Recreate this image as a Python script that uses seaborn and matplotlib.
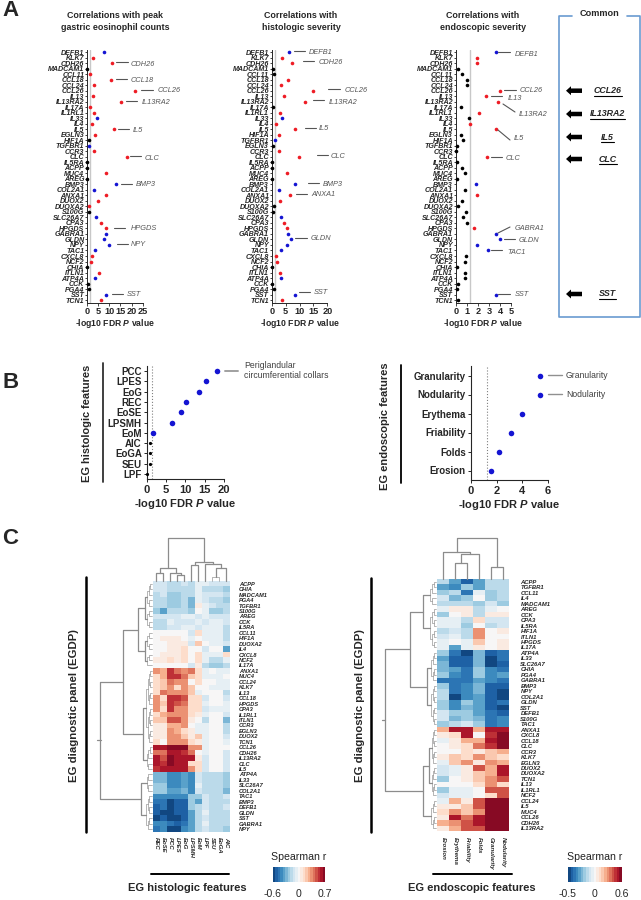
import numpy as np
import pandas as pd
import seaborn as sns
import matplotlib.pyplot as plt
from matplotlib.colors import TwoSlopeNorm

W, H = 641, 900

genes_eos = ['DEFB1','KLK7','CDH26','MADCAM1','CCL11','CCL18','CCL24','CCL26','IL13','IL13RA2','IL17A','IL1RL1','IL33','IL4','IL5','EGLN3','HIF1A','TGFBR1','CCR3','CLC','IL5RA','ACPP','MUC4','AREG','BMP3','COL2A1','ANXA1','DUOX2','DUOXA2','S100G','SLC26A7','CPA3','HPGDS','GABRA1','GLDN','NPY','TAC1','CXCL8','NCF2','CHIA','ITLN1','ATP4A','CCK','PGA4','SST','TCN1']
vals_eos = [7.5,2.7,11.3,0.2,1.2,10.7,3.0,21.7,2.7,15.2,1.3,3.3,4.4,2.1,12.2,3.6,0.9,1.1,3.3,17.9,0.1,0.1,8.6,0.1,12.8,3.2,8.4,5.1,1.0,0.8,4.1,6.3,8.7,8.4,7.5,9.9,3.6,2.3,1.7,0.1,5.3,3.6,0.6,0.9,8.7,6.3]
dirs_eos = ['b','r','r','k','r','r','r','r','r','r','r','r','b','r','r','r','k','b','r','r','k','k','r','k','b','b','r','r','r','k','b','r','r','b','b','b','b','r','r','k','r','b','k','k','b','r']

genes_his = ['DEFB1','KLK7','CDH26','MADCAM1','CCL11','CCL18','CCL24','CCL26','IL13','IL13RA2','IL17A','IL1RL1','IL33','IL4','IL5','HIF1A','TGFBR1','EGLN3','CCR3','CLC','IL5RA','ACPP','MUC4','AREG','BMP3','COL2A1','ANXA1','DUOX2','DUOXA2','S100G','SLC26A7','CPA3','HPGDS','GABRA1','GLDN','NPY','TAC1','CXCL8','NCF2','CHIA','ITLN1','ATP4A','CCK','PGA4','SST','TCN1']
vals_his = [6.2,3.6,7.4,0.4,1.0,5.7,3.2,14.9,4.4,12.1,0.4,3.0,3.7,1.7,8.3,2.6,1.3,0.4,2.5,9.8,0.2,0.1,5.5,0.1,8.4,2.8,6.7,3.0,1.0,0.3,3.2,4.4,5.6,5.7,6.8,5.6,3.2,1.6,1.9,0.1,3.0,3.2,0.1,0.7,8.5,3.6]
dirs_his = ['b','r','r','k','k','r','r','r','r','r','k','r','b','r','r','r','b','k','r','r','k','k','r','k','b','b','r','r','k','k','b','r','r','b','b','b','b','r','r','k','r','b','k','k','b','r']

genes_end = genes_eos
vals_end = [3.6,1.9,1.9,0.2,0.6,1.0,1.0,4.0,2.7,3.8,0.45,2.1,1.2,1.25,3.6,0.5,0.65,0.15,0.05,2.8,0.15,0.6,0.8,0.15,1.8,0.8,1.9,0.6,0.2,0.9,0.65,1.0,1.65,3.6,4.0,1.9,2.9,0.9,0.8,0.15,0.8,0.8,0.2,0.15,3.6,0.2]
dirs_end = ['b','r','r','k','k','k','k','r','r','r','k','r','k','r','r','k','k','k','k','r','k','k','k','k','b','k','r','k','k','k','k','k','r','b','b','b','b','k','k','k','k','k','k','k','b','k']

# callouts, picture pixels: x0, y0, x1, y1, text x, text y, label
notes_a = [
    (116,62,128,62,131,64,'CDH26'),(116,79,127,79,131,80,'CCL18'),(141,90,153,90,158,91,'CCL26'),
    (126,101,137,101,142,103,'IL13RA2'),(118,129,129,129,133,130,'IL5'),(130,156,141,156,145,158,'CLC'),
    (121,184,132,184,136,185,'BMP3'),(114,228,125,228,131,229,'HPGDS'),(117,244,128,244,131,245,'NPY'),
    (112,294,123,294,127,295,'SST'),
    (294,51,305,51,309,52,'DEFB1'),(303,61,314,61,319,62,'CDH26'),(328,89,340,89,345,90,'CCL26'),
    (313,100,324,100,329,102,'IL13RA2'),(305,128,316,128,319,129,'IL5'),(317,155,328,155,331,157,'CLC'),
    (308,183,319,183,323,184,'BMP3'),(296,194,307,194,311,195,'ANXA1'),(295,238,307,238,311,239,'GLDN'),
    (299,292,310,292,314,293,'SST'),
    (498,52,510,52,515,54,'DEFB1'),(504,90,516,90,520,91,'CCL26'),(491,96,502,96,508,98,'IL13'),
    (503,104,515,112,519,114,'IL13RA2'),(498,130,510,140,514,139,'IL5'),(491,157,502,157,506,158,'CLC'),
    (498,233,510,227,515,229,'GABRA1'),(504,239,515,239,519,240,'GLDN'),(491,250,502,250,507,252,'TAC1'),
    (498,294,510,294,515,295,'SST')]
common_genes = ['CCL26','IL13RA2','IL5','CLC','SST']
common_y = [90.7,114,137,159,294]

hist_feats = ['PCC','LPES','EoG','REC','EoSE','LPSMH','EoM','AIC','EoGA','SEU','LPF']
hist_vals = [18.2,15.3,13.6,10.2,9.0,6.6,1.6,0.9,0.8,0.8,0.1]
hist_sig = [1,1,1,1,1,1,1,0,0,0,0]
endo_feats = ['Granularity','Nodularity','Erythema','Friability','Folds','Erosion']
endo_vals = [5.4,5.4,4.0,3.15,2.2,1.55]

heat_l_rows = ['ACPP','CHIA','MADCAM1','PGA4','TGFBR1','S100G','AREG','CCK','IL5RA','CCL11','HIF1A','DUOXA2','IL4','CXCL8','NCF2','IL17A','ANXA1','MUC4','CCL24','KLK7','IL13','CCL18','HPGDS','CPA3','IL1RL1','ITLN1','CCR3','EGLN3','DUOX2','TCN1','CCL26','CDH26','IL13RA2','CLC','IL5','ATP4A','IL33','SLC26A7','COL2A1','TAC1','BMP3','DEFB1','GLDN','SST','GABRA1','NPY']
heat_l_cols = ['REC','EoSE','PCC','LPES','EoG','LPSMH','EoM','LPF','SEU','EoGA','AIC']
heat_l = [
    [-.12,-.12,-.17,-.17,-.12,-.17,-.03,-.07,-.10,-.10,-.12],
    [-.12,-.12,-.20,-.20,-.15,-.20,-.04,-.20,-.20,-.20,-.22],
    [-.20,-.12,-.22,-.22,-.17,-.20,-.05,-.12,-.12,-.12,-.15],
    [-.20,-.15,-.25,-.25,-.15,-.30,-.05,-.12,-.15,-.15,-.25],
    [-.20,-.15,-.25,-.25,-.20,-.30,.05,-.03,-.12,-.18,-.20],
    [-.25,-.32,-.20,-.20,-.18,-.22,-.02,-.05,-.22,-.22,-.18],
    [-.12,-.12,-.12,-.12,-.08,-.03,-.12,-.07,-.10,-.10,-.10],
    [-.15,-.15,-.08,-.10,-.10,-.12,-.05,-.12,-.03,-.03,-.12],
    [-.15,-.15,-.10,-.10,-.08,-.05,-.12,-.05,-.07,-.07,-.15],
    [.03,.03,.03,.02,.01,-.10,.12,-.08,-.07,-.07,-.20],
    [.03,.05,.05,.05,.02,-.07,.03,-.05,-.07,-.07,-.20],
    [.02,.01,.04,.06,.05,-.10,.20,-.02,-.03,-.03,-.10],
    [.03,.02,.08,.08,.10,.01,.02,-.10,-.02,-.02,-.35],
    [.02,.07,.06,.05,.10,0,.10,-.05,-.03,-.03,.12],
    [.08,.07,.10,.07,.13,0,.15,-.07,-.17,-.17,-.05],
    [.03,.03,.02,.02,.02,-.12,.05,-.20,-.22,-.22,-.18],
    [.30,.25,.50,.42,.35,.42,.10,-.03,-.02,-.03,-.05],
    [.15,.25,.52,.52,.42,.20,.10,-.03,-.05,-.05,.02],
    [.12,.20,.40,.35,.30,.03,.12,-.02,-.02,-.03,-.05],
    [.12,.20,.32,.12,.30,.20,.02,-.02,-.07,-.05,-.05],
    [.15,.42,.30,.30,.30,.20,-.05,.03,-.02,-.02,-.20],
    [.35,.15,.52,.52,.45,.15,.12,-.10,-.02,-.02,-.10],
    [.35,.20,.52,.45,.42,.10,.12,-.03,-.02,-.02,-.08],
    [.30,.12,.50,.35,.35,.10,.10,-.10,-.08,-.08,-.08],
    [.15,.27,.35,.35,.30,.10,.05,-.03,-.02,-.02,-.12],
    [.22,.22,.45,.45,.35,.05,.03,-.20,-.02,-.02,-.30],
    [.05,.05,.25,.25,.30,.02,-.03,-.07,-.02,-.02,-.15],
    [.05,.05,.30,.25,.15,.05,-.03,-.03,-.02,-.02,-.15],
    [.05,.05,.30,.30,.22,.05,.18,-.05,-.02,-.02,-.12],
    [.12,.03,.30,.35,.30,.12,.05,-.03,-.02,-.02,-.07],
    [.62,.62,.70,.65,.65,.35,.32,-.05,.02,.02,-.02],
    [.40,.40,.62,.62,.50,.40,.03,-.08,-.02,-.02,-.12],
    [.60,.45,.65,.62,.58,.58,.05,-.10,-.02,-.02,-.12],
    [.60,.50,.65,.60,.60,.10,.15,-.10,-.02,-.02,-.12],
    [.50,.58,.62,.60,.60,.35,.15,-.10,-.02,-.02,-.12],
    [-.28,-.28,-.40,-.40,-.32,-.40,-.12,-.20,-.20,-.20,-.25],
    [-.28,-.28,-.42,-.42,-.35,-.42,-.10,-.17,-.20,-.20,-.22],
    [-.25,-.25,-.42,-.42,-.35,-.40,-.08,-.17,-.20,-.20,-.25],
    [-.25,-.25,-.35,-.35,-.28,-.38,-.10,-.15,-.20,-.20,-.30],
    [-.42,-.42,-.42,-.42,-.42,-.22,-.22,-.12,-.15,-.15,-.12],
    [-.45,-.45,-.60,-.52,-.50,-.25,-.35,-.10,-.15,-.15,-.17],
    [-.50,-.48,-.58,-.52,-.52,-.25,-.18,-.10,-.20,-.20,-.10],
    [-.50,-.55,-.58,-.50,-.52,-.35,-.15,-.08,-.18,-.18,-.15],
    [-.55,-.50,-.58,-.55,-.52,-.35,-.18,-.10,-.20,-.20,-.20],
    [-.42,-.42,-.45,-.50,-.45,-.32,-.15,-.05,-.18,-.18,-.20],
    [-.45,-.40,-.58,-.55,-.42,-.32,-.20,-.12,-.20,-.20,-.22]]

heat_r_rows = ['ACPP','TGFBR1','CCL11','IL4','MADCAM1','AREG','CCK','CPA3','IL5RA','HIF1A','ITLN1','HPGDS','IL17A','ATP4A','IL33','SLC26A7','CHIA','PGA4','GABRA1','BMP3','NPY','COL2A1','GLDN','SST','DEFB1','S100G','TAC1','ANXA1','CXCL8','CCL18','CLC','CCR3','KLK7','EGLN3','DUOX2','DUOXA2','TCN1','IL13','IL1RL1','NCF2','CCL24','IL5','MUC4','CCL26','CDH26','IL13RA2']
heat_r_cols = ['Erosion','Erythema','Friability','Folds','Granularity','Nodularity']
heat_r = [
    [-.15,-.28,-.42,-.30,-.15,-.15],[-.30,-.33,-.20,-.28,-.15,-.12],[-.20,-.12,-.38,-.03,-.20,-.12],
    [-.08,-.25,-.18,-.02,-.20,-.15],[-.12,-.12,-.15,-.17,-.08,-.18],[-.04,.08,.06,-.15,-.07,-.02],
    [-.20,.01,.08,-.15,.04,.06],[-.03,-.06,-.15,.12,-.10,-.10],[-.05,-.06,-.20,0,-.13,-.10],
    [-.15,-.08,-.12,.28,.01,.04],[-.10,-.04,-.12,.28,.01,.02],[-.03,-.02,-.06,.15,.02,.03],
    [-.03,-.28,-.05,.05,.02,.03],[-.20,-.38,-.50,-.25,-.42,-.38],[-.28,-.42,-.45,-.22,-.50,-.38],
    [-.25,-.42,-.42,-.25,-.48,-.42],[-.25,-.30,-.38,-.18,-.35,-.38],[-.18,-.35,-.38,-.18,-.33,-.28],
    [-.40,-.38,-.38,-.28,-.35,-.38],[-.20,-.38,-.33,-.22,-.42,-.42],[-.14,-.38,-.33,-.22,-.42,-.52],
    [-.15,-.46,-.33,-.28,-.42,-.48],[-.18,-.33,-.20,-.30,-.42,-.38],[-.18,-.33,-.22,-.30,-.42,-.50],
    [-.08,-.20,-.20,-.30,-.40,-.42],[-.08,-.25,-.20,-.22,-.38,-.35],[-.20,-.15,-.10,-.20,-.38,-.33],
    [.20,.50,.50,.20,.52,.52],[.06,.14,.50,.02,.45,.58],[-.05,.05,.20,.25,.50,.58],
    [-.02,.06,.12,.32,.45,.58],[.02,.02,.12,.07,.15,.22],[.08,.17,.10,.28,.18,.12],
    [-.06,.18,.30,.08,.30,.25],[-.10,-.03,.06,.40,.22,.50],[-.10,-.03,.05,.18,.22,.52],
    [-.18,-.02,.05,.17,.30,.42],[0,-.02,-.02,.12,.30,.14],[-.18,-.06,-.05,-.01,.42,.40],
    [-.08,-.04,-.03,-.02,.14,.40],[-.03,.20,.08,.42,.58,.58],[.08,.08,.18,.42,.58,.58],
    [.12,.30,.18,.30,.58,.58],[.05,.52,.35,.50,.60,.62],[.20,.30,.40,.52,.60,.55],[.07,.25,.42,.42,.60,.55]]


def comb(lo, hi, h):
    # fill in small subtree of a dendrogram over rows lo..hi
    if lo == hi:
        return lo
    mid = (lo + hi) // 2
    return (h, comb(lo, mid, h*0.62), comb(mid+1, hi, h*0.62))

# dendrograms: (distance from heatmap in px, left, right), int = leaf
tree_lc = (42.7, (13.3, (7.7, 0, 1), (8.5, 2, (6.5, 3, 4))),
           (19.3, (16, 5, 6), (17.5, 7, (13, (4, 8, 9), 10))))
tree_rc = (40.7, (26.7, 0, (25, (16.3, 1, 2), 3)), (11.7, 4, 5))
tree_lr = (51.7, (29, (14, comb(0, 8, 7), comb(9, 15, 7)), (8.7, comb(16, 29, 6), comb(30, 34, 5))),
           (10.4, comb(35, 38, 5), comb(39, 45, 6)))
tree_rr = (51.3, (25.6, (13, comb(0, 4, 6), comb(5, 12, 6)), (9.3, comb(13, 18, 5), comb(19, 26, 5))),
           (13.3, comb(27, 39, 7), comb(40, 45, 5)))


sns.set_style('ticks')
plt.rcParams['font.family'] = ['Liberation Sans', 'DejaVu Sans']
plt.rcParams['mathtext.fontset'] = 'custom'
plt.rcParams['mathtext.rm'] = 'Liberation Sans:bold'
plt.rcParams['mathtext.it'] = 'Liberation Sans:italic:bold'
plt.rcParams['mathtext.bf'] = 'Liberation Sans:bold'

fig = plt.figure(figsize=(W/100, H/100), dpi=100)
XLAB = r'-log10 FDR $\mathit{P}$ value'
PAL = {'r': '#ee1c25', 'b': '#1414d2', 'k': '#000000'}


def box(x0, y0, x1, y1):
    return fig.add_axes([x0/W, 1-y1/H, (x1-x0)/W, (y1-y0)/H])


def gene_panel(x0, x1, genes, vals, dirs, xmax, ticks):
    ax = box(x0, 49.55, x1, 302.8)
    ax.axvline(1.3, color='#c8c8c8', lw=1, zorder=0)
    df = pd.DataFrame({'gene': genes, 'val': vals, 'dir': dirs})
    sns.stripplot(data=df, x='val', y='gene', order=genes, hue='dir', palette=PAL, jitter=False,
                  size=2.6, linewidth=0, legend=False, clip_on=False, zorder=5, ax=ax)
    ax.set_xlim(0, xmax)
    ax.set_ylim(45.5, -0.5)
    ax.set_xticks(ticks)
    ax.set_xlabel(XLAB, fontsize=6.2, fontweight='bold', labelpad=1)
    ax.set_ylabel('')
    ax.tick_params(axis='y', length=1.5, width=.6, pad=.4, labelsize=5.1)
    ax.tick_params(axis='x', length=2, width=.6, pad=1, labelsize=6.6)
    for t in ax.get_yticklabels():
        t.set_fontweight('bold')
        t.set_fontstyle('italic')
    for t in ax.get_xticklabels():
        t.set_fontweight('bold')
    sns.despine(ax=ax)
    for s in ax.spines.values():
        s.set_linewidth(.7)
    return ax


gene_panel(87, 142.7, genes_eos, vals_eos, dirs_eos, 25, [0, 5, 10, 15, 20, 25])
gene_panel(271.7, 327.3, genes_his, vals_his, dirs_his, 20, [0, 5, 10, 15, 20])
gene_panel(455.7, 511, genes_end, vals_end, dirs_end, 5, [0, 1, 2, 3, 4, 5])


def feat_panel(x0, y0, x1, y1, feats, vals, sig, xmax, ticks, vline):
    ax = box(x0, y0, x1, y1)
    ax.axvline(vline, color='#808080', lw=.8, ls=':', zorder=0)
    df = pd.DataFrame({'feat': feats, 'val': vals, 'sig': sig})
    sns.stripplot(data=df[df.sig == 1], x='val', y='feat', order=feats, color='#1414d2', jitter=False,
                  size=4, linewidth=0, clip_on=False, zorder=5, ax=ax)
    sns.stripplot(data=df[df.sig == 0], x='val', y='feat', order=feats, color='k', jitter=False,
                  size=2.3, linewidth=0, clip_on=False, zorder=5, ax=ax)
    ax.set_xlim(0, xmax)
    ax.set_ylim(len(feats)-.5, -.5)
    ax.set_xticks(ticks)
    ax.set_xlabel(XLAB, fontsize=8, fontweight='bold', labelpad=2)
    ax.set_ylabel('')
    ax.tick_params(axis='y', length=2.5, width=.7, pad=1, labelsize=7)
    ax.tick_params(axis='x', length=2.5, width=.7, pad=1.5, labelsize=8)
    for t in ax.get_yticklabels() + ax.get_xticklabels():
        t.set_fontweight('bold')
    sns.despine(ax=ax)
    return ax


feat_panel(146.7, 366, 224, 479, hist_feats, hist_vals, hist_sig, 20, [0, 5, 10, 15, 20], 1.3)
feat_panel(470.8, 366, 548, 480, endo_feats, endo_vals, [1]*6, 6, [0, 2, 4, 6], 1.27)

cmap = sns.color_palette('RdBu_r', 21)


def heat_panel(x0, y0, x1, y1, data, rows, cols, vmin, vmax, cax_box, cticks, fs, pad):
    ax = box(x0, y0, x1, y1)
    cax = box(*cax_box)
    df = pd.DataFrame(data, index=rows, columns=cols)
    sns.heatmap(df, ax=ax, cmap=cmap, norm=TwoSlopeNorm(0, vmin, vmax), cbar_ax=cax,
                cbar_kws={'orientation': 'horizontal', 'ticks': cticks}, xticklabels=True, yticklabels=True)
    ax.yaxis.tick_right()
    ax.tick_params(axis='y', length=0, pad=pad, labelsize=fs, labelrotation=0)
    ax.tick_params(axis='x', length=0, pad=4, labelsize=fs+.2)
    for t in ax.get_yticklabels():
        t.set_fontweight('bold')
        t.set_fontstyle('italic')
    for t in ax.get_xticklabels():
        t.set_rotation(-90)
        t.set_fontweight('bold')
        t.set_fontstyle('italic')
    cax.tick_params(length=0, labelsize=7.6, pad=5)
    cax.set_xticklabels([str(c) for c in cticks])
    return ax


heat_panel(152.7, 581, 230, 831.7, heat_l, heat_l_rows, heat_l_cols, -.6, .7, (273, 867, 325, 882), [-.6, 0, .7], 4.1, 6.5)
heat_panel(437.3, 579, 509.3, 831, heat_r, heat_r_rows, heat_r_cols, -.5, .6, (568, 867, 622, 882), [-.5, 0, .6], 4.2, 8)

# everything placed by picture pixels goes on one overlay
over = fig.add_axes([0, 0, 1, 1], zorder=10)
over.set_xlim(0, W)
over.set_ylim(H, 0)
over.axis('off')
over.patch.set_alpha(0)

for x, lab, y in [(2, 'A', 10), (2, 'B', 383), (2, 'C', 538)]:
    over.text(x, y, lab, fontsize=16, fontweight='bold', va='center')

for x, txt in [(115, 'Correlations with peak\ngastric eosinophil counts'),
               (301, 'Correlations with\nhistologic severity'),
               (483, 'Correlations with\nendoscopic severity')]:
    over.text(x, 21.5, txt, fontsize=6.4, fontweight='bold', ha='center', va='center', linespacing=1.3)

for x0, y0, x1, y1, tx, ty, lab in notes_a:
    over.plot([x0, x1], [y0, y1], color='#555555', lw=.8)
    over.text(tx, ty, lab, fontsize=5.3, style='italic', color='#555555', va='center')

# Common box
BLUE = '#6a9bd1'
over.plot([572, 559.3, 559.3, 640, 640, 627], [16, 16, 317, 317, 16, 16], color=BLUE, lw=1.2)
over.text(599, 14, 'Common', fontsize=6.6, fontweight='bold', ha='center', va='center')
for g, y in zip(common_genes, common_y):
    over.arrow(582, y, -16, 0, width=4.5, head_width=9, head_length=5, length_includes_head=True, color='k', lw=0)
    t = over.text(607.7, y, g, fontsize=6.4, fontweight='bold', style='italic', ha='center', va='center')
    half = {'CCL26': 14, 'IL13RA2': 17.5, 'IL5': 6.5, 'CLC': 9, 'SST': 8.5}[g]
    over.plot([607.7-half, 607.7+half], [y+5, y+5], color='k', lw=.8)

# panel B side text
over.plot([103, 103], [362.7, 481.7], color='#303030', lw=1.3)
over.plot([401, 401], [365, 483], color='k', lw=1.3)
over.text(87, 423, 'EG histologic features', fontsize=7.9, fontweight='bold', rotation=90, ha='center', va='center')
over.text(385, 425.7, 'EG endoscopic features', fontsize=8, fontweight='bold', rotation=90, ha='center', va='center')
over.plot([225.4, 238.3], [370.7, 370.7], color='#a0a0a0', lw=1.4)
over.text(244, 370.5, 'Periglandular\ncircumferential collars', fontsize=6.2, color='#404040', va='center', linespacing=1.2)
for y, lab in [(375.3, 'Granularity'), (394.3, 'Nodularity')]:
    over.plot([548.3, 561.7], [y, y], color='#909090', lw=1)
    over.text(565.8, y, lab, fontsize=6.2, color='#404040', va='center')

# panel C side text
for x, y0, y1 in [(85.7, 576.7, 831.7), (371, 577.7, 832)]:
    over.plot([x, x], [y0, y1], color='k', lw=1.8)
over.text(74, 705, 'EG diagnostic panel (EGDP)', fontsize=8.2, fontweight='bold', rotation=90, ha='center', va='center')
over.text(360, 705, 'EG diagnostic panel (EGDP)', fontsize=8.2, fontweight='bold', rotation=90, ha='center', va='center')
for x0, x1, xc, txt in [(151, 229, 187, 'EG histologic features'), (433, 511.7, 472, 'EG endoscopic features')]:
    over.plot([x0, x1], [874, 874], color='k', lw=1.4)
    over.text(xc, 887.7, txt, fontsize=8, fontweight='bold', ha='center', va='center')
for xc in [299, 595]:
    over.text(xc, 857, 'Spearman r', fontsize=7.6, ha='center', va='center', color='#222222')


def draw_tree(node, pos, edge, sign, vertical):
    # returns the position of a node along the heatmap side
    if isinstance(node, int):
        return pos(node), 0
    h, a, b = node
    pa, ha = draw_tree(a, pos, edge, sign, vertical)
    pb, hb = draw_tree(b, pos, edge, sign, vertical)
    xs = [pa, pa, pb, pb]
    ys = [edge-sign*ha, edge-sign*h, edge-sign*h, edge-sign*hb]
    lw = .9 if h > 6 else .45
    col = '#8c8c8c'
    if vertical:
        over.plot(xs, ys, color=col, lw=lw)
    else:
        over.plot(ys, xs, color=col, lw=lw)
    return (pa+pb)/2, h


draw_tree(tree_lc, lambda i: 152.7+(77.3/11)*(i+.5), 581, 1, True)
draw_tree(tree_rc, lambda i: 437.3+12*(i+.5), 579, 1, True)
p, _ = draw_tree(tree_lr, lambda i: 581+(250.7/46)*(i+.5), 151.5, 1, False)
over.plot([97, 100.8], [p, p], color='#8c8c8c', lw=.9)
p, _ = draw_tree(tree_rr, lambda i: 579+(252/46)*(i+.5), 436, 1, False)
over.plot([381.7, 384.7], [p, p], color='#8c8c8c', lw=.9)

fig.savefig('out.png', dpi=100)
